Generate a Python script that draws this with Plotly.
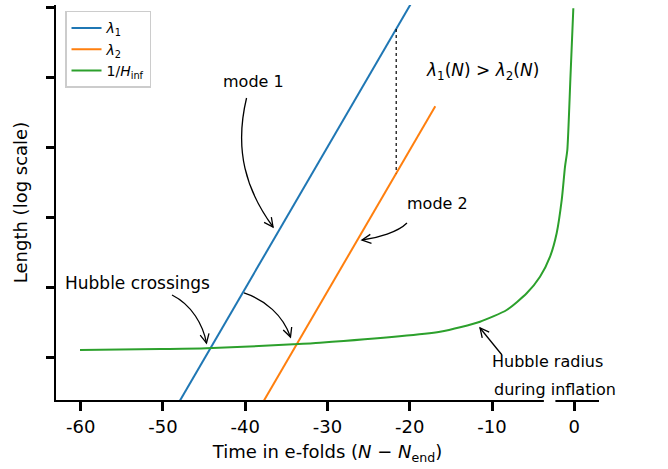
import numpy as np
import plotly.graph_objects as go

# ---------------- data ----------------
N_modes = [-50.0, -16.9]                 # N - N_end for the two mode wavelengths
lambda1 = [0.0912, 4.436e5]              # mode 1 physical wavelength (arb. units)
lambda2 = [7.91e-4, 3.837e3]             # mode 2 physical wavelength (arb. units)

N_hubble = [-60.08, -50.36, -44.71, -34.16, -30.91, -16.32, -11.46, -8.22,
            -5.79, -4.17, -2.95, -2.14, -1.53, -1.13, -0.85, -0.48, -0.12]
inv_H = [1.26, 1.30, 1.33, 1.52, 1.60, 2.30, 3.20, 4.70,
         8.15, 14.06, 27.2, 59.2, 175.4, 525.0, 908.0, 9.3e3, 9.616e4]   # 1/H_inf

N_compare = -21.65                       # where lambda1 and lambda2 are compared

x_tick_vals = [-60, -50, -40, -30, -20, -10, 0]
x_tick_text = ["-60", "-50", "-40", "-30", "-20", "-10", "0"]
y_tick_vals = [1, 10, 100, 1000, 1e4, 1e5]

# ---------------- layout constants ----------------
XR = [-63.0, 3.0]
YR = [-0.614, 5.03]      # log10 range
PW, PH = 543.0, 395.0    # plot area size in px
FONT = "DejaVu Sans"
BLUE, ORANGE, GREEN = "#1f77b4", "#ff7f0e", "#2ca02c"


def paper(N, L):
    """data (N, log10 length) -> paper coordinates"""
    return (N - XR[0]) / (XR[1] - XR[0]), (L - YR[0]) / (YR[1] - YR[0])


def head_path(tip, d_px, size=9.0, half=4.5):
    """open chevron arrow-head at data point tip, pointing along pixel direction d_px
    (dx right, dy down)."""
    tx, ty = paper(*tip)
    dx, dy = d_px
    n = (dx * dx + dy * dy) ** 0.5
    ux, uy = dx / n, dy / n
    px, py = -uy, ux
    w1 = (-size * ux + half * px, -size * uy + half * py)
    w2 = (-size * ux - half * px, -size * uy - half * py)
    conv = lambda w: (tx + w[0] / PW, ty - w[1] / PH)
    a, b = conv(w1), conv(w2)
    return "M {:.5f},{:.5f} L {:.5f},{:.5f} L {:.5f},{:.5f}".format(a[0], a[1], tx, ty, b[0], b[1])


fig = go.Figure()
fig.add_trace(go.Scatter(x=N_modes, y=lambda1, mode="lines", name="<i>λ</i><sub>1</sub>",
                         line=dict(color=BLUE, width=2)))
fig.add_trace(go.Scatter(x=N_modes, y=lambda2, mode="lines", name="<i>λ</i><sub>2</sub>",
                         line=dict(color=ORANGE, width=2)))
fig.add_trace(go.Scatter(x=N_hubble, y=inv_H, mode="lines", name="1/<i>H</i><sub>inf</sub>",
                         line=dict(color=GREEN, width=2, shape="spline", smoothing=0.6)))

l1c = 10 ** np.interp(N_compare, N_modes, np.log10(lambda1))
l2c = 10 ** np.interp(N_compare, N_modes, np.log10(lambda2))
fig.add_trace(go.Scatter(x=[N_compare, N_compare], y=[l1c, l2c], mode="lines",
                         line=dict(color="black", width=1.2, dash="dot"), showlegend=False,
                         hoverinfo="skip"))

curves = [
    ([(-39.84, 3.701), (-41.36, 2.958), (-39.91, 2.387), (-36.62, 1.858)], (11, 15)),
    ([(-48.90, 0.886), (-46.47, 0.743), (-45.13, 0.458), (-44.71, 0.200)], (3, 14)),
    ([(-40.15, 0.915), (-37.60, 0.815), (-35.41, 0.601), (-34.50, 0.286)], (5, 14)),
    ([(-20.34, 1.915), (-21.43, 1.787), (-23.86, 1.701), (-25.81, 1.672)], (-15, 2)),
]
shapes = []
LINE = dict(color="black", width=1.3)
for pts, d in curves:
    pp = [paper(*p) for p in pts]
    path = "M {:.5f},{:.5f} C {:.5f},{:.5f} {:.5f},{:.5f} {:.5f},{:.5f}".format(
        *pp[0], *pp[1], *pp[2], *pp[3])
    shapes.append(dict(type="path", path=path, xref="paper", yref="paper", line=LINE, layer="above"))
    shapes.append(dict(type="path", path=head_path(pts[-1], d), xref="paper", yref="paper",
                       line=LINE, layer="above"))

h_tail, h_tip = (-8.79, 0.029), (-11.46, 0.415)
p0, p1 = paper(*h_tail), paper(*h_tip)
shapes.append(dict(type="line", xref="paper", yref="paper", x0=p0[0], y0=p0[1], x1=p1[0], y1=p1[1],
                   line=LINE, layer="above"))
shapes.append(dict(type="path", path=head_path(h_tip, (-22, -27)), xref="paper", yref="paper",
                   line=LINE, layer="above"))

gx0, _ = paper(-3.7, 0)
gx1, _ = paper(-2.3, 0)
shapes.append(dict(type="rect", xref="paper", yref="paper", x0=gx0, x1=gx1, y0=-0.012, y1=0.012,
                   fillcolor="white", line=dict(width=0), layer="above"))

annotations = []
texts = [
    ("mode 1", -39.05, 3.944, "center", 16),
    ("Hubble crossings", -53.15, 1.058, "center", 17),
    ("mode 2", -16.69, 2.187, "center", 16),
    ("<i>λ</i><sub>1</sub>(<i>N</i>) > <i>λ</i><sub>2</sub>(<i>N</i>)", -11.22, 4.087, "center", 17),
    ("Hubble radius", -10.25, -0.057, "left", 16),
    ("during inflation", -10.0, -0.457, "left", 16),
]
for t, x, y, anc, sz in texts:
    annotations.append(dict(x=x, y=y, xref="x", yref="y", text=t, showarrow=False,
                            xanchor=anc, yanchor="middle",
                            font=dict(family=FONT, size=sz, color="black")))

fig.update_layout(
    width=668, height=469,
    margin=dict(l=56, r=69, t=5, b=69, autoexpand=False),
    paper_bgcolor="white", plot_bgcolor="white",
    font=dict(family=FONT, color="black"),
    shapes=shapes, annotations=annotations,
    legend=dict(x=0.0166, y=0.985, xanchor="left", yanchor="top",
                bgcolor="white", bordercolor="#cccccc", borderwidth=1.5,
                font=dict(family=FONT, size=14)),
    showlegend=True,
)
fig.update_xaxes(range=XR, tickvals=x_tick_vals, ticktext=x_tick_text, automargin=False,
                 showline=True, linecolor="black", linewidth=2,
                 ticks="outside", ticklen=9, tickwidth=3, tickcolor="black",
                 showgrid=False, zeroline=False,
                 tickfont=dict(family=FONT, size=18),
                 title=dict(text="Time in e-folds (<i>N</i> − <i>N</i><sub>end</sub>)",
                            font=dict(family=FONT, size=18), standoff=10))
fig.update_yaxes(type="log", range=YR, tickvals=y_tick_vals, showticklabels=False, automargin=False,
                 showline=True, linecolor="black", linewidth=2,
                 ticks="outside", ticklen=8, tickwidth=3, tickcolor="black",
                 showgrid=False, zeroline=False,
                 title=dict(text="Length (log scale)", font=dict(family=FONT, size=18),
                            standoff=14))

fig.write_html("out.html", config={"displayModeBar": False},
               post_script="document.body.style.margin='0px';document.body.style.overflow='hidden';")
